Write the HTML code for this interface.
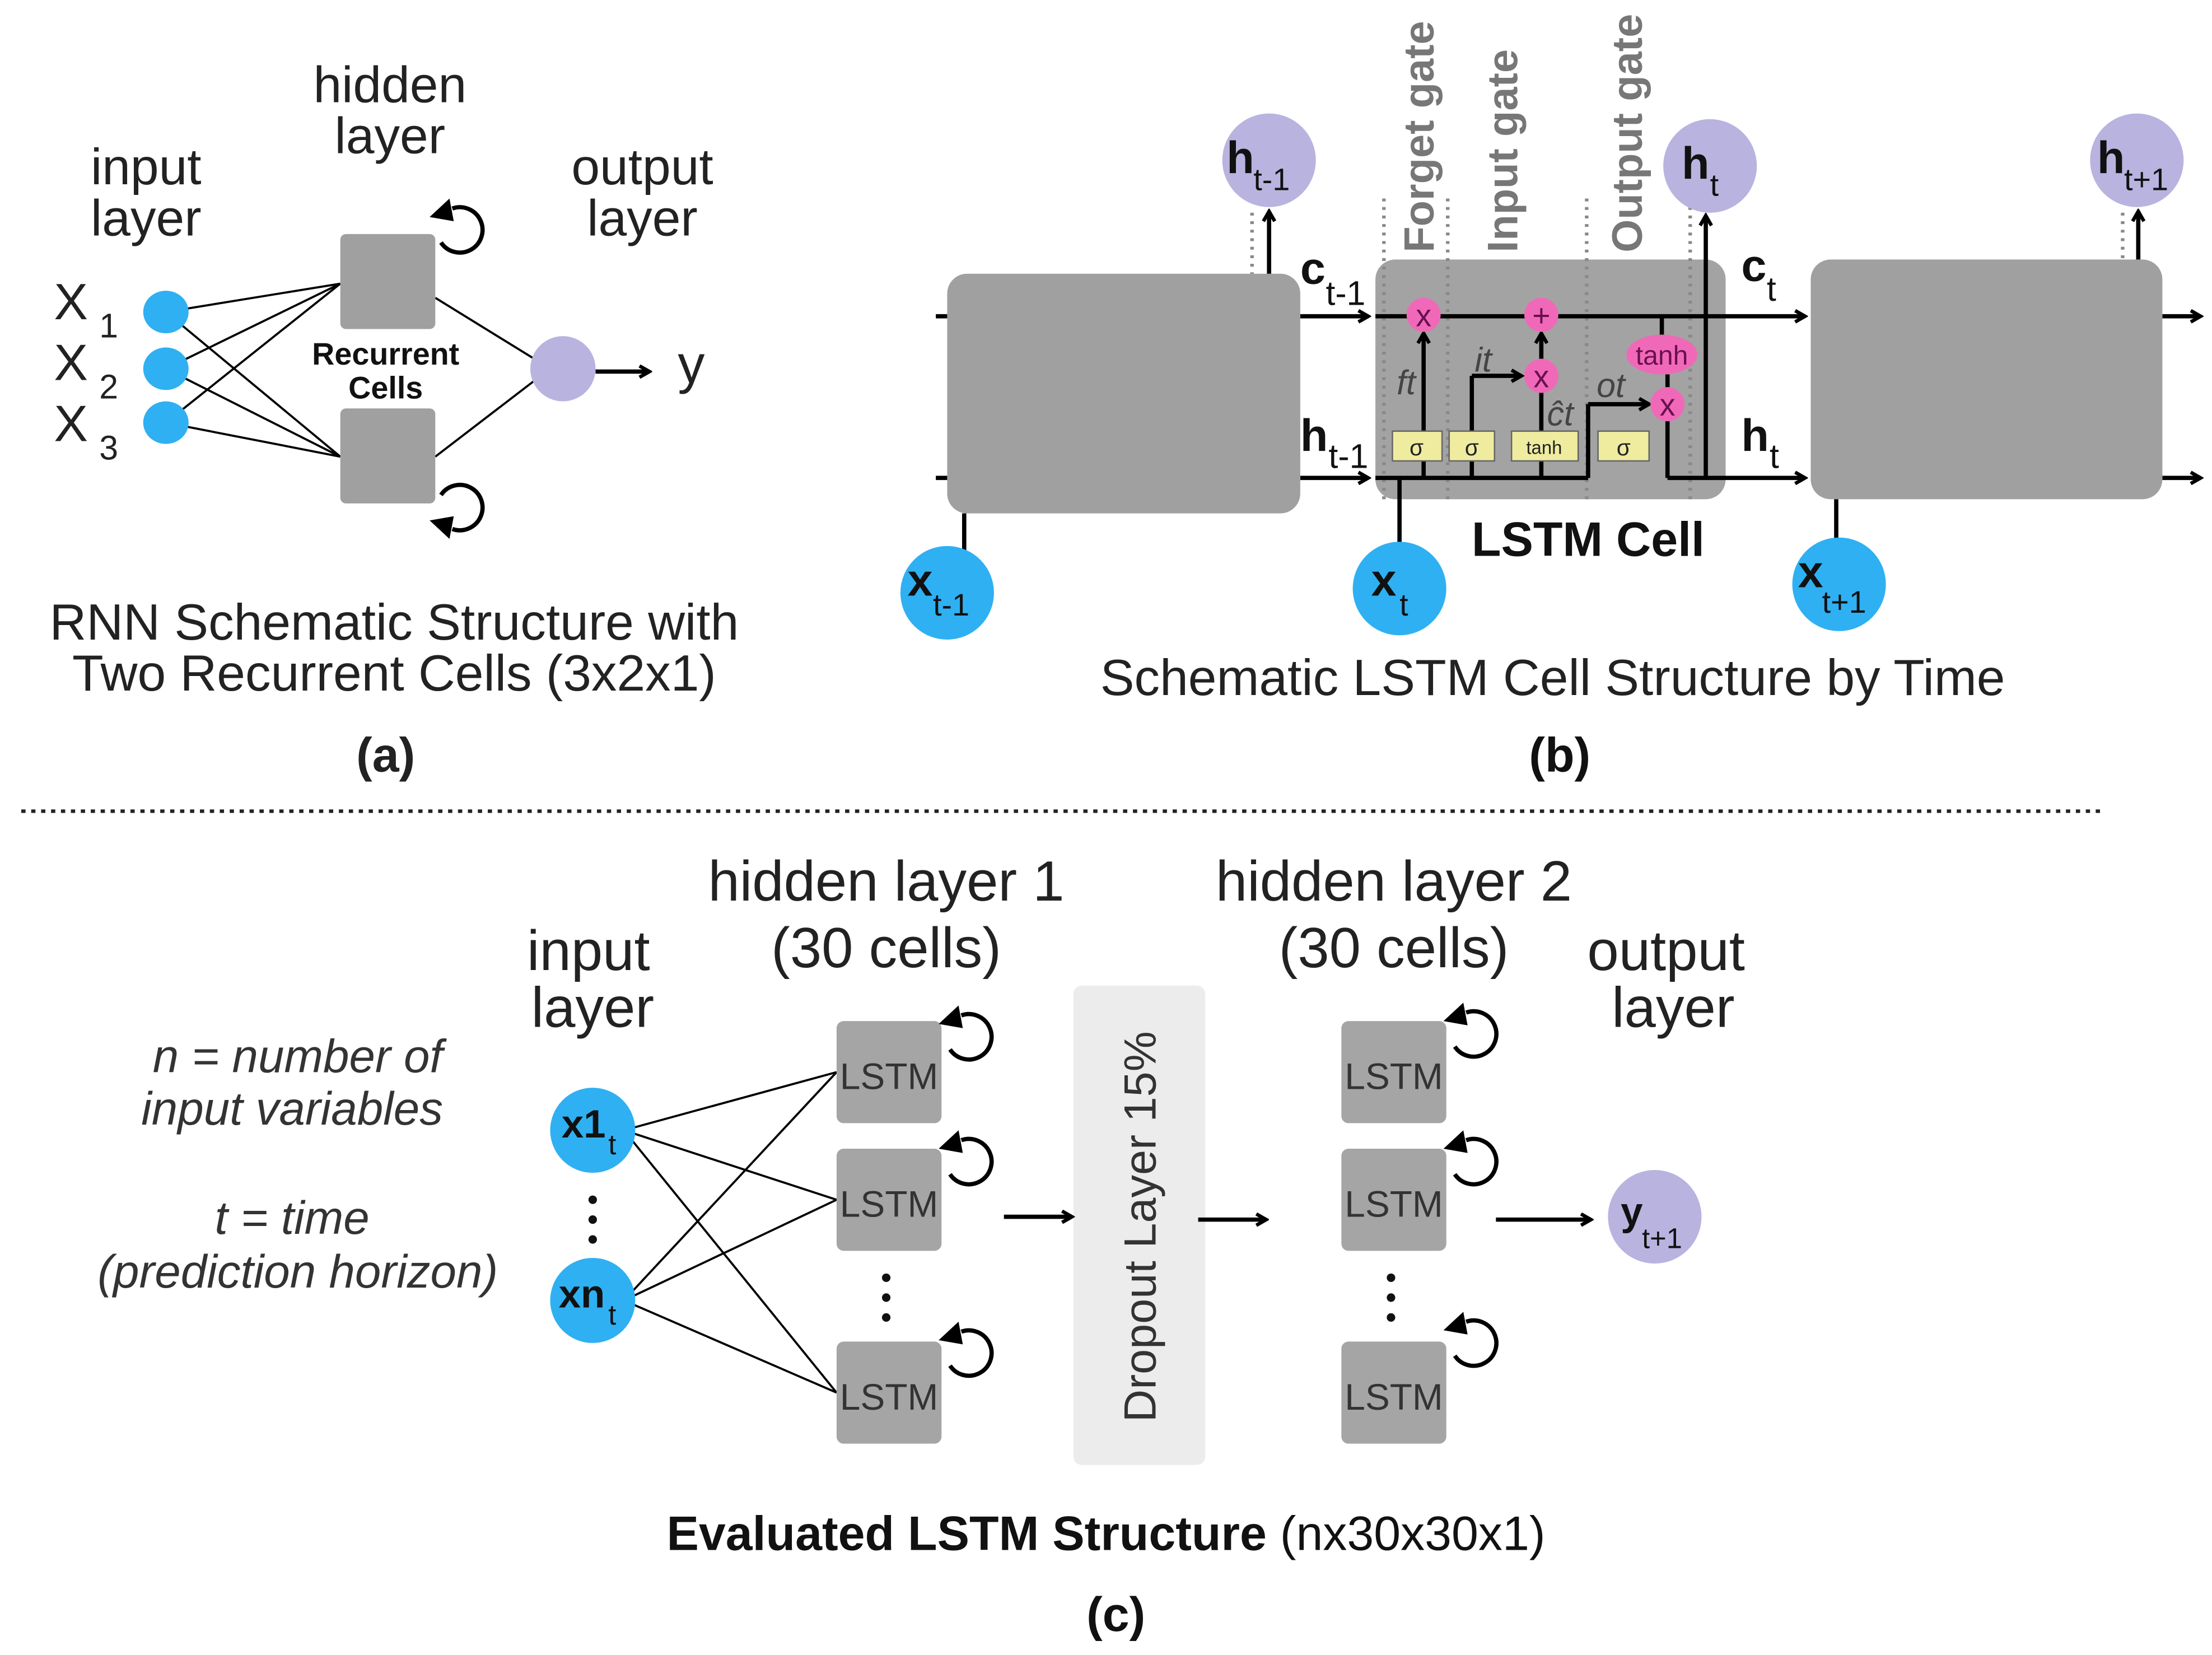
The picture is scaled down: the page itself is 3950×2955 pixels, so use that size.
<!DOCTYPE html>
<html><head><meta charset="utf-8"><style>
html,body{margin:0;padding:0;background:#fff;}
svg{display:block;}
text{font-family:"Liberation Sans",sans-serif;}
</style></head><body>
<svg width="3950" height="2955" viewBox="0 0 1560 1167" xmlns="http://www.w3.org/2000/svg">
<defs>
<marker id="ah" markerWidth="10" markerHeight="10" refX="8" refY="5" orient="auto" markerUnits="userSpaceOnUse">
<path d="M1,1 L8,5 L1,9" fill="none" stroke="#000" stroke-width="2.5"/>
</marker>
<g id="rec">
<path d="M6,21 A16 16 0 1 0 14,-3" fill="none" stroke="#000" stroke-width="3"/>
<polygon points="-2,3 12,-10 15,6" fill="#000"/>
</g>
</defs>
<rect width="1560" height="1167" fill="#fff"/>

<!-- (a) -->
<g font-size="36" fill="#222" text-anchor="middle">
<text x="103" y="130">input</text><text x="103" y="166">layer</text>
<text x="275" y="72">hidden</text><text x="275" y="108">layer</text>
<text x="453" y="130">output</text><text x="453" y="166">layer</text>
</g>
<g font-size="36" fill="#222">
<text x="38" y="225">X</text><text x="70" y="238" font-size="24">1</text>
<text x="38" y="268">X</text><text x="70" y="281" font-size="24">2</text>
<text x="38" y="311">X</text><text x="70" y="324" font-size="24">3</text>
</g>
<g stroke="#000" stroke-width="1.5">
<line x1="117" y1="220" x2="240" y2="200"/><line x1="117" y1="220" x2="240" y2="322"/>
<line x1="117" y1="260" x2="240" y2="200"/><line x1="117" y1="260" x2="240" y2="322"/>
<line x1="117" y1="298" x2="240" y2="200"/><line x1="117" y1="298" x2="240" y2="322"/>
<line x1="307" y1="210" x2="380" y2="255"/><line x1="307" y1="322" x2="380" y2="266"/>
</g>
<g fill="#2fb0f2"><ellipse cx="117" cy="220" rx="16" ry="15"/><ellipse cx="117" cy="260" rx="16" ry="15"/><ellipse cx="117" cy="298" rx="16" ry="15"/></g>
<rect x="240" y="165" width="67" height="67" rx="4" fill="#a0a0a0"/>
<rect x="240" y="288" width="67" height="67" rx="4" fill="#a0a0a0"/>
<use href="#rec" transform="translate(305,150)"/>
<use href="#rec" transform="translate(305,370) scale(1,-1)"/>
<text x="272" y="257" font-size="22" font-weight="bold" text-anchor="middle" fill="#111">Recurrent</text>
<text x="272" y="281" font-size="22" font-weight="bold" text-anchor="middle" fill="#111">Cells</text>
<circle cx="397" cy="260" r="23" fill="#b9b3e0"/>
<line x1="420" y1="262" x2="458" y2="262" stroke="#000" stroke-width="3" marker-end="url(#ah)"/>
<text x="478" y="270" font-size="38" fill="#222">y</text>
<g font-size="36" fill="#222" text-anchor="middle">
<text x="278" y="451">RNN Schematic Structure with</text>
<text x="278" y="487">Two Recurrent Cells (3x2x1)</text>
<text x="272" y="544" font-weight="bold" font-size="34">(a)</text>
</g>

<!-- (b) -->
<g stroke="#000" stroke-width="3" fill="none">
<line x1="660" y1="223" x2="668" y2="223"/><line x1="660" y1="337" x2="668" y2="337"/>
<line x1="917" y1="223" x2="965" y2="223" marker-end="url(#ah)"/>
<line x1="917" y1="337" x2="965" y2="337" marker-end="url(#ah)"/>
<line x1="1525" y1="223" x2="1552" y2="223" marker-end="url(#ah)"/>
<line x1="1525" y1="337" x2="1552" y2="337" marker-end="url(#ah)"/>
</g>
<rect x="668" y="193" width="249" height="169" rx="14" fill="#a0a0a0"/>
<rect x="970" y="183" width="247" height="169" rx="14" fill="#a3a3a3"/>
<rect x="1277" y="183" width="248" height="169" rx="14" fill="#a0a0a0"/>
<g stroke="#888" stroke-width="2.5" stroke-dasharray="2,4">
<line x1="976" y1="140" x2="976" y2="352"/><line x1="1021" y1="140" x2="1021" y2="352"/>
<line x1="1119" y1="140" x2="1119" y2="352"/><line x1="1192" y1="140" x2="1192" y2="352"/>
<line x1="883" y1="150" x2="883" y2="193"/><line x1="1497" y1="150" x2="1497" y2="183"/>
</g>
<g stroke="#000" stroke-width="3" fill="none">
<line x1="970" y1="223" x2="1273" y2="223" marker-end="url(#ah)"/>
<line x1="970" y1="337" x2="1120" y2="337"/>
<line x1="1176" y1="337" x2="1273" y2="337" marker-end="url(#ah)"/>
<line x1="1004" y1="337" x2="1004" y2="235" marker-end="url(#ah)"/>
<line x1="1038" y1="337" x2="1038" y2="265"/><line x1="1038" y1="265" x2="1073" y2="265" marker-end="url(#ah)"/>
<line x1="1087" y1="337" x2="1087" y2="277"/>
<line x1="1087" y1="253" x2="1087" y2="235" marker-end="url(#ah)"/>
<line x1="1120" y1="337" x2="1120" y2="285"/><line x1="1120" y1="285" x2="1163" y2="285" marker-end="url(#ah)"/>
<line x1="1172" y1="223" x2="1172" y2="236"/><line x1="1176" y1="264" x2="1176" y2="273"/>
<line x1="1176" y1="297" x2="1176" y2="337"/>
<line x1="1203" y1="337" x2="1203" y2="152" marker-end="url(#ah)"/>
<line x1="895" y1="193" x2="895" y2="149" marker-end="url(#ah)"/>
<line x1="1508" y1="183" x2="1508" y2="149" marker-end="url(#ah)"/>
<line x1="680" y1="362" x2="680" y2="392"/>
<line x1="987" y1="352" x2="987" y2="388"/>
<line x1="1295" y1="352" x2="1295" y2="385"/>
<line x1="987" y1="337" x2="987" y2="352"/>
</g>
<g fill="#f069b8">
<circle cx="1004" cy="222" r="12"/><circle cx="1087" cy="222" r="12"/><circle cx="1087" cy="265" r="12"/>
<ellipse cx="1172" cy="250" rx="25" ry="14"/><circle cx="1176" cy="285" r="12"/>
</g>
<g font-size="22" fill="#6a1050" text-anchor="middle">
<text x="1004" y="230">x</text><text x="1087" y="230">+</text><text x="1087" y="273">x</text>
<text x="1172" y="257" font-size="19">tanh</text><text x="1176" y="293">x</text>
</g>
<g fill="#efeca0" stroke="#666" stroke-width="1">
<rect x="982" y="304" width="35" height="21"/><rect x="1022" y="304" width="32" height="21"/>
<rect x="1066" y="304" width="47" height="21"/><rect x="1127" y="304" width="36" height="21"/>
</g>
<g font-size="16" fill="#222" text-anchor="middle">
<text x="999" y="321">σ</text><text x="1038" y="321">σ</text><text x="1089" y="320" font-size="13">tanh</text><text x="1145" y="321">σ</text>
</g>
<g font-size="24" font-style="italic" fill="#444">
<text x="985" y="278">ft</text><text x="1040" y="262">it</text><text x="1091" y="300">ĉt</text><text x="1126" y="280">ot</text>
</g>
<g font-size="30" font-weight="bold" fill="#777">
<text transform="translate(1011,178) rotate(-90)">Forget gate</text>
<text transform="translate(1070,178) rotate(-90)">Input gate</text>
<text transform="translate(1158,178) rotate(-90)">Output gate</text>
</g>
<g fill="#111" font-size="32" font-weight="bold">
<text x="917" y="200">c</text><text x="935" y="215" font-size="24" font-weight="normal">t-1</text>
<text x="917" y="318">h</text><text x="937" y="330" font-size="24" font-weight="normal">t-1</text>
<text x="1228" y="198">c</text><text x="1246" y="212" font-size="24" font-weight="normal">t</text>
<text x="1228" y="318">h</text><text x="1248" y="330" font-size="24" font-weight="normal">t</text>
</g>
<g fill="#b9b3e0"><circle cx="895" cy="113" r="33"/><circle cx="1206" cy="117" r="33"/><circle cx="1507" cy="113" r="33"/></g>
<g fill="#111" font-size="32" font-weight="bold">
<text x="865" y="122">h</text><text x="884" y="134" font-size="22" font-weight="normal">t-1</text>
<text x="1186" y="126">h</text><text x="1206" y="138" font-size="22" font-weight="normal">t</text>
<text x="1479" y="122">h</text><text x="1498" y="134" font-size="22" font-weight="normal">t+1</text>
</g>
<g fill="#2fb0f2"><circle cx="668" cy="418" r="33"/><circle cx="987" cy="415" r="33"/><circle cx="1297" cy="412" r="33"/></g>
<g fill="#111" font-size="32" font-weight="bold">
<text x="640" y="420">x</text><text x="658" y="434" font-size="22" font-weight="normal">t-1</text>
<text x="967" y="420">x</text><text x="987" y="434" font-size="22" font-weight="normal">t</text>
<text x="1268" y="414">x</text><text x="1285" y="432" font-size="22" font-weight="normal">t+1</text>
</g>
<text x="1120" y="392" font-size="34" font-weight="bold" text-anchor="middle" fill="#111">LSTM Cell</text>
<text x="1095" y="490" font-size="36" text-anchor="middle" fill="#222">Schematic LSTM Cell Structure by Time</text>
<text x="1100" y="544" font-size="34" font-weight="bold" text-anchor="middle" fill="#111">(b)</text>

<line x1="15" y1="572" x2="1485" y2="572" stroke="#222" stroke-width="2.5" stroke-dasharray="3,4"/>

<!-- (c) -->
<g font-size="33" font-style="italic" fill="#333" text-anchor="middle">
<text x="210" y="756">n = number of</text><text x="206" y="793">input variables</text>
<text x="206" y="870">t = time</text><text x="210" y="908">(prediction horizon)</text>
</g>
<g font-size="40" fill="#222" text-anchor="middle">
<text x="415" y="684">input</text><text x="418" y="724">layer</text>
<text x="625" y="635">hidden layer 1</text><text x="625" y="682">(30 cells)</text>
<text x="983" y="635">hidden layer 2</text><text x="983" y="682">(30 cells)</text>
<text x="1175" y="684">output</text><text x="1180" y="724">layer</text>
</g>
<g stroke="#000" stroke-width="1.5">
<line x1="440" y1="797" x2="590" y2="756"/><line x1="440" y1="797" x2="590" y2="846"/><line x1="440" y1="797" x2="590" y2="982"/>
<line x1="440" y1="917" x2="590" y2="756"/><line x1="440" y1="917" x2="590" y2="846"/><line x1="440" y1="917" x2="590" y2="982"/>
</g>
<g fill="#2fb0f2"><circle cx="418" cy="797" r="30"/><circle cx="418" cy="917" r="30"/></g>
<g fill="#111" font-size="28" font-weight="bold">
<text x="396" y="802">x1</text><text x="429" y="814" font-size="20" font-weight="normal">t</text>
<text x="394" y="922">xn</text><text x="429" y="934" font-size="20" font-weight="normal">t</text>
</g>
<g fill="#111"><circle cx="418" cy="846" r="3"/><circle cx="418" cy="860" r="3"/><circle cx="418" cy="874" r="3"/>
<circle cx="625" cy="901" r="3"/><circle cx="625" cy="915" r="3"/><circle cx="625" cy="929" r="3"/>
<circle cx="981" cy="901" r="3"/><circle cx="981" cy="915" r="3"/><circle cx="981" cy="929" r="3"/></g>
<g fill="#a5a5a5">
<rect x="590" y="720" width="74" height="72" rx="5"/><rect x="590" y="810" width="74" height="72" rx="5"/><rect x="590" y="946" width="74" height="72" rx="5"/>
<rect x="946" y="720" width="74" height="72" rx="5"/><rect x="946" y="810" width="74" height="72" rx="5"/><rect x="946" y="946" width="74" height="72" rx="5"/>
</g>
<g font-size="26" fill="#333" text-anchor="middle">
<text x="627" y="768">LSTM</text><text x="627" y="858">LSTM</text><text x="627" y="994">LSTM</text>
<text x="983" y="768">LSTM</text><text x="983" y="858">LSTM</text><text x="983" y="994">LSTM</text>
</g>
<use href="#rec" transform="translate(664,719)"/>
<use href="#rec" transform="translate(664,807)"/>
<use href="#rec" transform="translate(664,942)"/>
<use href="#rec" transform="translate(1020,717)"/>
<use href="#rec" transform="translate(1020,807)"/>
<use href="#rec" transform="translate(1020,935)"/>
<rect x="757" y="695" width="93" height="338" rx="6" fill="#ececec"/>
<text transform="translate(815,865) rotate(-90)" font-size="32" fill="#333" text-anchor="middle">Dropout Layer 15%</text>
<g stroke="#000" stroke-width="3">
<line x1="708" y1="858" x2="756" y2="858" marker-end="url(#ah)"/>
<line x1="845" y1="860" x2="893" y2="860" marker-end="url(#ah)"/>
<line x1="1055" y1="860" x2="1122" y2="860" marker-end="url(#ah)"/>
</g>
<circle cx="1167" cy="858" r="33" fill="#b9b3e0"/>
<text x="1143" y="864" font-size="28" font-weight="bold" fill="#111">y</text><text x="1158" y="880" font-size="20" fill="#111">t+1</text>
<text x="780" y="1093" font-size="34" text-anchor="middle" fill="#111"><tspan font-weight="bold">Evaluated LSTM Structure</tspan> (nx30x30x1)</text>
<text x="787" y="1150" font-size="34" font-weight="bold" text-anchor="middle" fill="#111">(c)</text>
</svg>
</body></html>
